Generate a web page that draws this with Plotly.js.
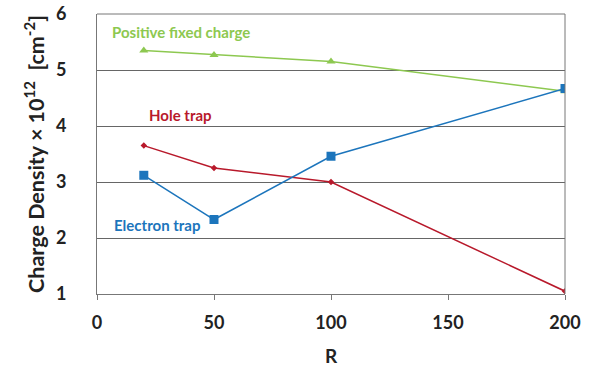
<!DOCTYPE html>
<html><head><meta charset="utf-8">
<script src="https://cdn.plot.ly/plotly-3.0.1.min.js"></script>
<style>html,body{margin:0;padding:0;background:#fff}</style>
</head><body><div id="chart" style="width:595px;height:369px"></div>
<script>
const rValues = [20, 50, 100, 200];
const positiveFixed = [5.35, 5.27, 5.15, 4.62];
const holeTrap = [3.65, 3.25, 3.0, 1.05];
const electronTrap = [3.12, 2.33, 3.46, 4.67];
const seriesNames = ["Positive fixed charge", "Hole trap", "Electron trap"];
const xTicks = [0, 50, 100, 150, 200];
const yTicks = [1, 2, 3, 4, 5, 6];

const green = "#8DC850", red = "#B8192B", blue = "#1C75BC";
const font = "Lato, 'Open Sans', sans-serif";

const traces = [
  {x: rValues, y: positiveFixed, name: seriesNames[0], mode: "lines+markers",
   line: {color: green, width: 1.5}, marker: {symbol: "triangle-up", size: 8, color: green}},
  {x: rValues, y: holeTrap, name: seriesNames[1], mode: "lines+markers",
   line: {color: red, width: 1.5}, marker: {symbol: "diamond", size: 5, color: red}},
  {x: rValues, y: electronTrap, name: seriesNames[2], mode: "lines+markers",
   line: {color: blue, width: 1.5}, marker: {symbol: "square", size: 9, color: blue}}
];

const layout = {
  width: 595, height: 369,
  margin: {l: 97, r: 30, t: 14, b: 75},
  showlegend: false,
  paper_bgcolor: "#fff", plot_bgcolor: "#fff",
  font: {family: font, color: "#222"},
  xaxis: {
    range: [0, 200], tickvals: xTicks, ticktext: xTicks.map(String),
    showgrid: false, zeroline: false, showline: true, linecolor: "#777", linewidth: 1,
    ticks: "outside", ticklen: 5, tickcolor: "#777",
    tickfont: {size: 18, family: font, weight: "bold", color: "#222"},
    ticklabelstandoff: 7,
    title: {text: "R", font: {size: 19, family: font, weight: "bold", color: "#222"}, standoff: 18}
  },
  yaxis: {
    range: [1, 6], tickvals: yTicks, ticktext: yTicks.map(String),
    showgrid: true, gridcolor: "#666", gridwidth: 1, zeroline: false,
    showline: true, linecolor: "#777", linewidth: 1, ticks: "",
    tickfont: {size: 18, family: font, weight: "bold", color: "#222"},
    ticklabelstandoff: 26,
    title: {text: "Charge Density × 10<sup>12</sup>  [cm<sup>-2</sup>]",
            font: {size: 21.5, family: font, weight: "bold", color: "#222"}, standoff: 5}
  },
  shapes: [
    {type: "line", xref: "paper", yref: "paper", x0: 0, x1: 1, y0: 1, y1: 1, line: {color: "#777", width: 1}},
    {type: "line", xref: "paper", yref: "paper", x0: 1, x1: 1, y0: 0, y1: 1, line: {color: "#777", width: 1}}
  ],
  annotations: [
    {x: 5.6, y: 5.68, text: seriesNames[0], showarrow: false, xanchor: "left",
     font: {size: 15, color: green, family: font, weight: "bold"}},
    {x: 21.4, y: 4.2, text: seriesNames[1], showarrow: false, xanchor: "left",
     font: {size: 15, color: red, family: font, weight: "bold"}},
    {x: 6.4, y: 2.23, text: seriesNames[2], showarrow: false, xanchor: "left",
     font: {size: 15, color: blue, family: font, weight: "bold"}}
  ]
};

Plotly.newPlot("chart", traces, layout, {displayModeBar: false, staticPlot: true});
</script></body></html>
